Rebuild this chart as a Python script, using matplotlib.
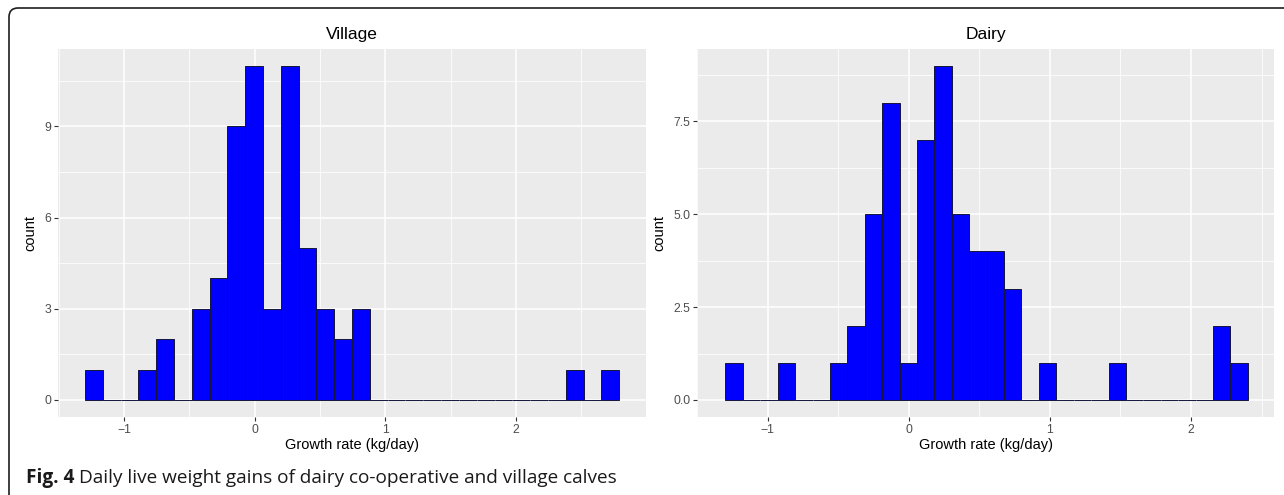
import numpy as np
import matplotlib
matplotlib.use("Agg")
import matplotlib.pyplot as plt
from matplotlib.patches import FancyBboxPatch
from matplotlib.transforms import IdentityTransform

# histogram counts, 30 bins each (ggplot default binning)
village_counts = [1, 0, 0, 1, 2, 0, 3, 4, 9, 11, 3, 11, 5, 3, 2, 3,
                  0, 0, 0, 0, 0, 0, 0, 0, 0, 0, 0, 1, 0, 1]
village_start = -1.298
village_width = 0.1362

dairy_counts = [1, 0, 0, 1, 0, 0, 1, 2, 5, 8, 1, 7, 9, 5, 4, 4, 3, 0, 1,
                0, 0, 0, 1, 0, 0, 0, 0, 0, 2, 1]
dairy_start = -1.299
dairy_width = 0.1234

village_yticks = [0, 3, 6, 9]
village_yticklabels = ["0", "3", "6", "9"]
dairy_yticks = [0, 2.5, 5.0, 7.5]
dairy_yticklabels = ["0.0", "2.5", "5.0", "7.5"]
xticks = [-1, 0, 1, 2]
xticklabels = ["\u22121", "0", "1", "2"]

plt.rcParams["font.family"] = ["Liberation Sans", "DejaVu Sans"]

fig = plt.figure(figsize=(12.84, 4.95), dpi=100)


def gg_hist(ax, counts, start, width, yticks, yticklabels, title):
    counts = np.asarray(counts)
    lefts = start + width * np.arange(len(counts))
    ax.bar(lefts, counts, width=width, align="edge", color="#0000FF",
           edgecolor="#14143c", linewidth=0.7, zorder=3)
    lo, hi = lefts[0], lefts[-1] + width
    pad = 0.05 * (hi - lo)
    ax.set_xlim(lo - pad, hi + pad)
    ymax = counts.max()
    ax.set_ylim(-0.05 * ymax, 1.05 * ymax)

    ax.set_facecolor("#EBEBEB")
    for s in ax.spines.values():
        s.set_visible(False)
    ax.set_xticks(xticks)
    ax.set_xticklabels(xticklabels)
    ax.set_yticks(yticks)
    ax.set_yticklabels(yticklabels)
    minor_x = [t + 0.5 for t in [-2] + xticks]
    ax.set_xticks(minor_x, minor=True)
    step = yticks[1] - yticks[0]
    ax.set_yticks([t + step / 2 for t in yticks], minor=True)
    ax.grid(True, which="major", color="white", linewidth=1.1, zorder=0)
    ax.grid(True, which="minor", color="white", linewidth=0.55, zorder=0)
    ax.set_axisbelow(True)
    ax.tick_params(which="major", length=2.75, width=0.8, color="#333333",
                   labelsize=8.8, labelcolor="#4D4D4D", pad=2.2)
    ax.tick_params(which="minor", length=0)

    ax.set_title(title, fontsize=12.5, pad=7)
    ax.set_xlabel("Growth rate (kg/day)", fontsize=10.5, labelpad=2)
    ax.set_ylabel("count", fontsize=10.5, labelpad=5)


ax1 = fig.add_axes([0.0454, 0.1582, 0.4576, 0.7428])
gg_hist(ax1, village_counts, village_start, village_width,
        village_yticks, village_yticklabels, "Village")

ax2 = fig.add_axes([0.5429, 0.1582, 0.4493, 0.7428])
gg_hist(ax2, dairy_counts, dairy_start, dairy_width,
        dairy_yticks, dairy_yticklabels, "Dairy")

# figure caption: bold label then plain text
cap_y = 1 - 478 / 495
fig_lbl = fig.text(26 / 1284, cap_y, "Fig. 4", fontsize=13.7, fontweight="bold",
                   family=["Open Sans", "DejaVu Sans"], va="center", color="#1a1a1a")
fig.canvas.draw()
bb = fig_lbl.get_window_extent()
fig.text(bb.x1 / fig.bbox.width + 5 / 1284, cap_y,
         "Daily live weight gains of dairy co-operative and village calves",
         fontsize=13.7, family=["Open Sans", "DejaVu Sans"], va="center",
         color="#1a1a1a")

# rounded frame around the figure
frame = FancyBboxPatch((9, -30), 1320, 487 + 30,
                       boxstyle="round,pad=0,rounding_size=9",
                       transform=IdentityTransform(), fill=False,
                       edgecolor="#1e1e1e", linewidth=1.2)
fig.patches.append(frame)

fig.savefig("out.png", dpi=100)
